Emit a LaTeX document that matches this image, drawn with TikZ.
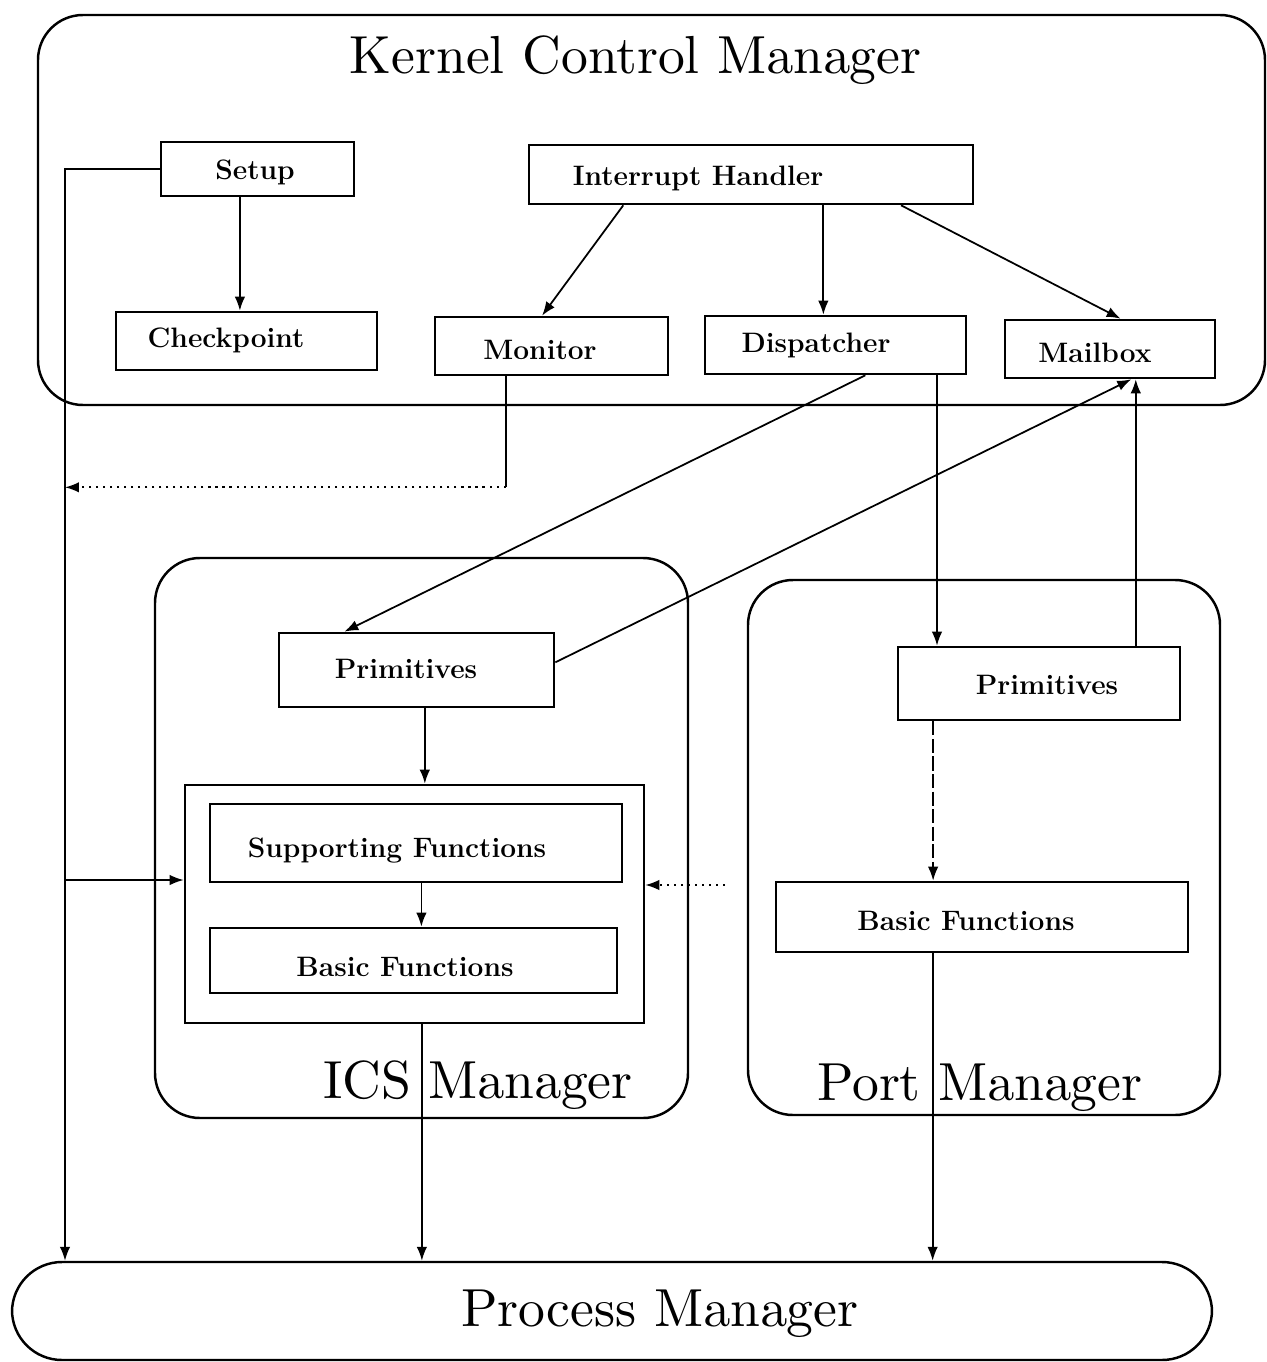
\documentclass[tikz,border=0pt]{standalone}
\usetikzlibrary{arrows.meta,calc,fit}
% headings use the 10pt roman design enlarged
\font\headfont=cmr10 at 30.5pt
\begin{document}
\begin{tikzpicture}[x=0.02cm,y=-0.02cm,
  box/.style={draw,line width=1.5pt,inner sep=0pt},
  lbl/.style={font=\fontsize{16}{19}\selectfont\bfseries,inner sep=0pt,anchor=base},
  group/.style={draw,line width=1.4pt,rounded corners=0.9cm,inner sep=0pt},
  title/.style={font=\headfont,inner sep=0pt,anchor=base},
  arr/.style={line width=1pt,-{Latex[length=2.8mm,width=2.1mm]}},
  link/.style={line width=1pt},
  faint/.style={line width=0.8pt,dash pattern=on 1.2pt off 2.8pt},
  longdash/.style={dash pattern=on 8pt off 2pt},
]
\useasboundingbox (0,0) rectangle (1267,1362);

% ---- containers ----
\node[group,fit={(38,15) (1265,405)}] (kcm) {};
\node[title] (kcmT) at (636,74) {Kernel Control Manager};
\node[group,fit={(155,558) (688,1118)}] (ics) {};
\node[title] (icsT) at (478,1098) {ICS Manager};
\node[group,fit={(748,580) (1220,1115)}] (port) {};
\node[title] (portT) at (980,1100) {Port Manager};
\node[group,rounded corners=1cm,fit={(12,1262) (1212,1360)}] (pm) {};
\node[title] (pmT) at (660,1326) {Process Manager};

% ---- kernel control manager ----
\node[box,fit={(161,142) (354,196)}] (setup) {};
\node[lbl] (setupT) at (255,179) {Setup};
\node[box,fit={(529,145) (973,204)}] (ih) {};
\node[lbl] (ihT) at (698,185) {Interrupt Handler};
\node[box,fit={(116,312) (377,370)}] (chk) {};
\node[lbl] (chkT) at (226,347) {Checkpoint};
\node[box,fit={(435,317) (668,375)}] (mon) {};
\node[lbl] (monT) at (540,359) {Monitor};
\node[box,fit={(705,316) (966,374)}] (disp) {};
\node[lbl] (dispT) at (816,352) {Dispatcher};
\node[box,fit={(1005,320) (1215,378)}] (mail) {};
\node[lbl] (mailT) at (1095,362) {Mailbox};

% ---- ICS manager ----
\node[box,fit={(279,633) (554,707)}] (prA) {};
\node[lbl] (prAT) at (406,678) {Primitives};
\node[box,fit={(185,785) (644,1023)}] (core) {};
\node[box,fit={(210,804) (622,882)}] (supp) {};
\node[lbl] (suppT) at (397,857) {Supporting Functions};
\node[box,fit={(210,928) (617,993)}] (basA) {};
\node[lbl] (basAT) at (405,976) {Basic Functions};

% ---- port manager ----
\node[box,fit={(898,647) (1180,720)}] (prB) {};
\node[lbl] (prBT) at (1047,694) {Primitives};
\node[box,fit={(776,882) (1188,952)}] (basB) {};
\node[lbl] (basBT) at (966,930) {Basic Functions};

% ---- connector end points on the box edges ----
\coordinate (lft) at (65,0);
\coordinate (setupS) at ($(setup.south west)!0.41!(setup.south east)$);
\coordinate (ihS1) at ($(ih.south west)!0.214!(ih.south east)$);
\coordinate (ihS2) at ($(ih.south west)!0.662!(ih.south east)$);
\coordinate (ihS3) at ($(ih.south west)!0.836!(ih.south east)$);
\coordinate (monN) at ($(mon.north west)!0.46!(mon.north east)$);
\coordinate (mailN) at ($(mail.north west)!0.55!(mail.north east)$);
\coordinate (mailS1) at ($(mail.south west)!0.6!(mail.south east)$);
\coordinate (monDrop) at ($(mon.south west)+(72,0)$);
\coordinate (monTurn) at ($(monDrop)+(0,111)$);
\coordinate (dispS1) at ($(disp.south west)!0.613!(disp.south east)$);
\coordinate (dispS2) at ($(disp.south west)!0.885!(disp.south east)$);
\coordinate (prAN) at ($(prA.north west)!0.24!(prA.north east)$);
\coordinate (prAE) at ($(prA.north east)!0.4!(prA.south east)$);
\coordinate (prAS) at ($(prA.south west)!0.53!(prA.south east)$);
\coordinate (prBN) at ($(prB.north west)!0.84!(prB.north east)$);
\coordinate (prBS) at ($(prB.south west)!0.128!(prB.south east)$);
\coordinate (suppS) at ($(supp.south west)!0.513!(supp.south east)$);
\coordinate (coreS) at ($(core.south west)!0.516!(core.south east)$);
\coordinate (basBS) at ($(basB.south west)!0.381!(basB.south east)$);
\coordinate (yIn) at (0,880);
\coordinate (yOut) at (725,885);

% ---- connectors ----
\draw[arr] (setup.west) -- (setup.west -| lft) -- (lft |- pm.north);
\draw[arr] (setupS) -- (setupS |- chk.north);
\draw[arr] (ihS1) -- (monN);
\draw[arr] (ihS2) -- (ihS2 |- disp.north);
\draw[arr] (ihS3) -- (mailN);
\draw[link] (monDrop) -- (monTurn);
\draw[faint,arr] (monTurn) -- (monTurn -| lft);
\draw[arr] (dispS1) -- (prAN);
\draw[arr] (prAE) -- (mailS1);
\draw[arr] (dispS2) -- (dispS2 |- prB.north);
\draw[arr] (prBN) -- (prBN |- mail.south);
\draw[arr] (prAS) -- (prAS |- core.north);
\draw[arr] (suppS) -- (suppS |- basA.north);
\draw[arr] (lft |- yIn) -- (core.west |- yIn);
\draw[faint,arr] (yOut) -- (core.east |- yOut);
\draw[arr,longdash] (prBS) -- (prBS |- basB.north);
\draw[arr] (coreS) -- (coreS |- pm.north);
\draw[arr] (basBS) -- (basBS |- pm.north);
\end{tikzpicture}
\end{document}
